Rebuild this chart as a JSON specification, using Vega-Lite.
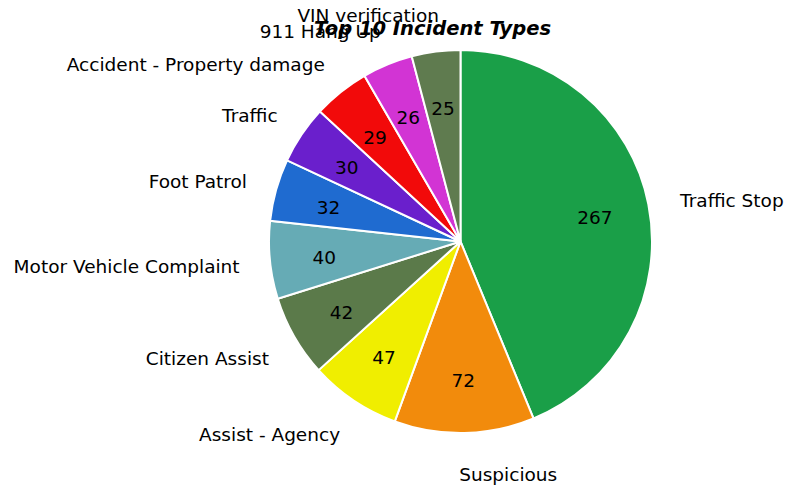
{
  "$schema": "https://vega.github.io/schema/vega-lite/v6.json",
  "width": 383,
  "height": 383,
  "autosize": {"type": "none"},
  "padding": {"left": 269, "top": 50, "right": 141, "bottom": 63},
  "background": "white",
  "title": {
    "text": "Top 10 Incident Types",
    "font": "DejaVu Sans",
    "fontSize": 19.5,
    "fontWeight": "bold",
    "fontStyle": "italic",
    "color": "black",
    "anchor": "middle",
    "frame": "group",
    "dx": -28,
    "offset": -47,
    "baseline": "alphabetic"
  },
  "data": {
    "values": [
      {"type": "Traffic Stop", "count": 267},
      {"type": "Suspicious", "count": 72},
      {"type": "Assist - Agency", "count": 47},
      {"type": "Citizen Assist", "count": 42},
      {"type": "Motor Vehicle Complaint", "count": 40},
      {"type": "Foot Patrol", "count": 32},
      {"type": "Traffic", "count": 30},
      {"type": "Accident - Property damage", "count": 29},
      {"type": "911 Hang Up", "count": 26},
      {"type": "VIN verification", "count": 25}
    ]
  },
  "encoding": {
    "theta": {"field": "count", "type": "quantitative", "stack": true},
    "order": {"field": "count", "type": "quantitative", "sort": "descending"},
    "detail": {"field": "type", "type": "nominal"}
  },
  "layer": [
    {
      "mark": {"type": "arc", "stroke": "white", "strokeWidth": 2},
      "encoding": {
        "color": {
          "field": "type",
          "type": "nominal",
          "sort": null,
          "legend": null,
          "scale": {
            "domain": ["Traffic Stop", "Suspicious", "Assist - Agency", "Citizen Assist", "Motor Vehicle Complaint", "Foot Patrol", "Traffic", "Accident - Property damage", "911 Hang Up", "VIN verification"],
            "range": ["#1a9f48", "#f28b0c", "#f0ee00", "#5b7a4a", "#66abb5", "#1f6bd0", "#6a1fcc", "#f20a0a", "#d234d4", "#5f7b4f"]
          }
        }
      }
    },
    {
      "mark": {"type": "text", "radius": 137, "font": "DejaVu Sans", "fontSize": 18.5, "fill": "black", "baseline": "middle", "align": "center", "dy": 3},
      "encoding": {
        "text": {"field": "count", "type": "quantitative"}
      }
    },
    {
      "mark": {"type": "text", "radius": 230, "font": "DejaVu Sans", "fontSize": 18.5, "fill": "black", "baseline": "middle", "align": "left", "dx": -6, "dy": 4},
      "encoding": {
        "text": {
          "condition": {"test": {"field": "type", "oneOf": ["Traffic Stop", "Suspicious"]}, "field": "type", "type": "nominal"},
          "value": ""
        }
      }
    },
    {
      "mark": {"type": "text", "radius": 230, "font": "DejaVu Sans", "fontSize": 18.5, "fill": "black", "baseline": "middle", "align": "right", "dx": 8, "dy": 3},
      "encoding": {
        "text": {
          "condition": {"test": {"not": {"field": "type", "oneOf": ["Traffic Stop", "Suspicious"]}}, "field": "type", "type": "nominal"},
          "value": ""
        }
      }
    }
  ],
  "config": {"view": {"stroke": null}}
}
